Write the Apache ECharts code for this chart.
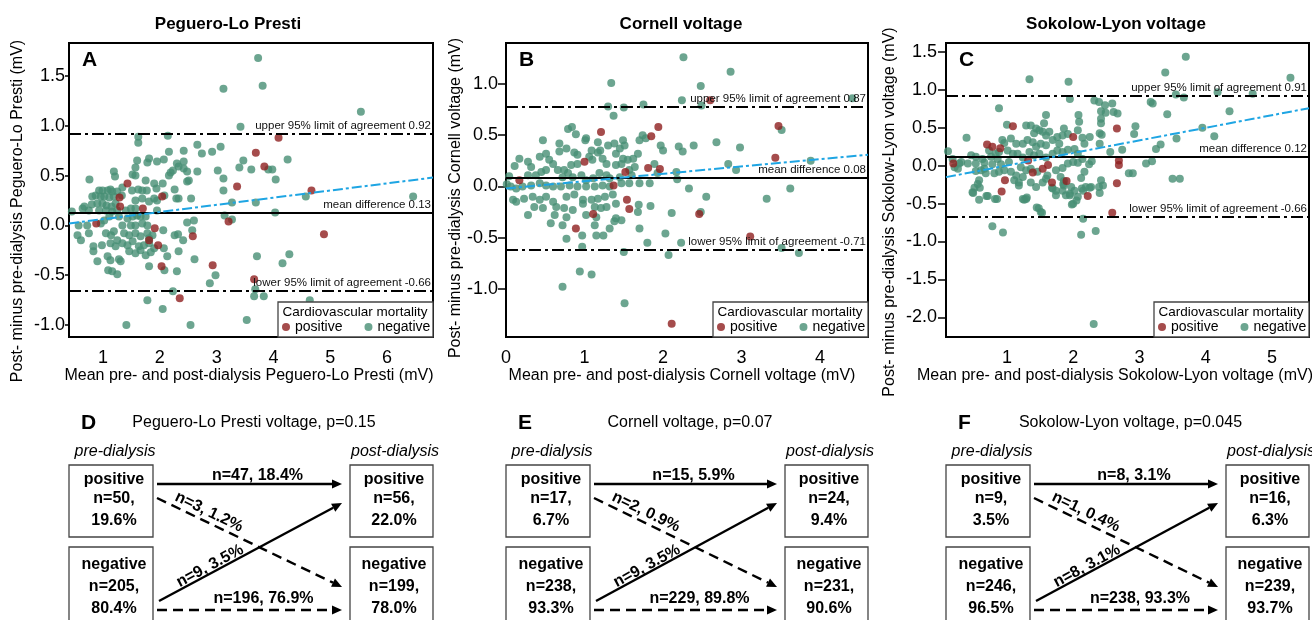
<!DOCTYPE html>
<html>
<head>
<meta charset="utf-8">
<script src="https://cdn.jsdelivr.net/npm/echarts@6/dist/echarts.min.js"></script>
<style>
  html, body { margin: 0; padding: 0; background: #fff; }
  #main { width: 1312px; height: 620px; }
</style>
</head>
<body>
<div id="main"></div>
<script>
// panel A - Peguero-Lo Presti: [mean, difference]
var pegPositive = [[0.88,0.02],[1.29,0.28],[1.30,0.19],[1.43,0.42],[1.70,0.17],[1.81,-0.15],[1.91,-0.03],[1.97,-0.20],
  [2.03,-0.41],[2.04,0.29],[2.35,-0.73],[2.58,-0.11],[2.93,-0.40],[3.21,0.04],[3.36,0.39],[3.66,-0.54],[3.69,0.73],
  [3.84,0.59],[4.09,0.88],[4.67,0.35],[4.89,-0.09]];
var pegNegative = [[3.73,1.68],[3.12,1.37],[3.81,1.40],[5.54,1.14],[3.42,0.99],[2.14,0.90],[1.62,0.89],[1.62,0.83],
  [3.91,0.56],[3.98,0.56],[4.04,0.46],[4.25,0.66],[3.61,0.56],[3.40,0.58],[3.47,0.65],[3.12,0.47],[3.12,0.35],[4.57,0.29],
  [6.46,0.29],[3.69,0.23],[3.27,0.23],[4.03,0.13],[3.14,0.10],[3.27,0.06],[3.71,-0.31],[4.28,-0.29],[4.16,-0.38],
  [2.98,-0.50],[2.88,-0.58],[3.68,-0.64],[3.83,-0.71],[3.66,-0.71],[4.64,-0.75],[3.53,-0.95],[2.54,-1.0],[1.41,-1.0],
  [2.05,-0.84],[1.78,-0.75],[2.23,-0.66],[2.08,-0.45],[2.30,-0.46],[1.81,-0.41],[2.61,-0.34],[2.57,-0.05],[2.60,0.05],
  [2.48,0.03],[2.41,-0.15],[2.32,-0.09],[2.26,-0.10],[2.33,-0.26],[2.13,-0.31],[2.07,-0.23],[2.06,-0.05],[2.08,0.30],
  [1.95,0.25],[1.95,0.15],[1.94,0.37],[2.05,0.42],[2.16,0.50],[2.19,0.53],[2.23,0.55],[2.33,0.59],[2.30,0.62],[2.42,0.64],
  [2.42,0.57],[2.48,0.54],[2.42,0.75],[2.16,0.74],[2.07,0.66],[1.95,0.64],[1.81,0.67],[1.78,0.63],[1.60,0.65],[1.57,0.58],
  [1.52,0.51],[1.57,0.50],[1.75,0.45],[1.62,0.36],[1.77,0.35],[1.90,0.42],[2.26,0.36],[2.29,0.27],[2.33,0.27],[2.55,0.27],
  [2.48,0.44],[2.51,0.45],[2.66,0.54],[2.74,0.72],[2.92,0.74],[3.07,0.79],[2.66,0.81],[3.02,0.55],
  [0.76,0.46],[0.67,0.19],[0.64,0.17],[0.45,0.14],[0.57,0.0],[0.55,-0.10],[0.61,-0.15],[0.75,-0.08],[0.72,0.0],
  [0.83,-0.21],[0.83,-0.26],[0.90,-0.36],[0.98,-0.20],[1.08,-0.31],[1.13,-0.35],[1.09,-0.45],[1.16,-0.46],[1.25,-0.49],
  [1.28,-0.34],[1.31,-0.36],[1.05,-0.08],[1.14,-0.10],[1.19,-0.06],[0.96,0.02],[1.02,0.05],[1.11,0.09],[1.19,0.54],
  [1.21,0.49],[1.34,0.38],[1.33,0.30],[1.25,0.34],[0.93,0.35],[0.99,0.35],[1.08,0.35],[1.13,0.36],[1.16,0.34],[0.81,0.29],
  [0.87,0.30],[0.96,0.29],[1.02,0.29],[1.11,0.28],[1.19,0.29],[0.80,0.21],[0.90,0.22],[0.99,0.22],[1.06,0.20],[1.15,0.19],
  [1.22,0.22],[0.75,0.15],[0.93,0.15],[1.05,0.15],[1.16,0.14],[1.25,0.15],[1.40,0.15],[1.49,0.17],[1.57,0.17],[1.28,0.09],
  [1.43,0.07],[1.52,0.09],[1.60,0.10],[1.66,0.09],[1.75,0.09],[1.34,0.00],[1.49,0.00],[1.57,0.00],[1.69,0.02],[1.78,0.00],
  [1.37,-0.08],[1.46,-0.10],[1.57,-0.08],[1.66,-0.11],[1.78,-0.08],[1.81,-0.13],[1.87,-0.10],[1.34,-0.18],[1.43,-0.20],
  [1.52,-0.16],[1.63,-0.21],[1.72,-0.20],[1.81,-0.18],[1.90,-0.23],[1.46,-0.26],[1.57,-0.28],[1.66,-0.25],[1.75,-0.30],
  [1.84,-0.27],[1.13,-0.18],[1.22,-0.21],[1.25,-0.15],[1.57,0.25],[1.69,0.27],[1.81,0.24],[1.90,0.27],[1.51,0.35],[1.69,0.35]];
var pegTrend = [[0.40,0.02],[6.81,0.48]];
var pegRefValues = [0.92, 0.13, -0.66];
var pegRefLabels = ['upper 95% limit of agreement 0.92', 'mean difference 0.13', 'lower 95% limit of agreement -0.66'];

// panel B - Cornell voltage
var corPositive = [[0.17,0.06],[0.89,-0.41],[1.0,0.24],[1.11,-0.27],[1.21,0.53],[1.37,0.01],[1.52,0.14],[1.54,-0.13],
  [1.57,-0.22],[1.81,0.18],[1.85,0.49],[1.94,0.58],[1.96,0.17],[2.11,-1.34],[2.46,-0.27],[2.60,0.84],[3.11,-0.49],
  [3.43,0.28],[3.47,0.59]];
var corNegative = [[2.26,1.26],[2.86,1.12],[2.48,0.98],[1.34,1.01],[2.24,0.84],[2.49,0.79],[4.41,0.86],[1.30,0.78],
  [1.50,0.77],[1.37,0.69],[1.75,0.80],[3.51,0.55],[3.88,0.25],[2.83,0.22],[2.93,0.16],[2.39,0.40],[2.68,0.43],[2.98,0.38],
  [2.20,0.39],[2.25,0.34],[1.97,0.40],[2.00,0.35],[1.51,-1.14],[0.72,-0.98],[0.94,-0.83],[1.09,-0.86],[1.50,-0.64],
  [2.07,-0.67],[2.23,-0.55],[3.51,-0.60],[3.73,-0.65],[1.80,-0.55],[2.03,-0.46],[1.70,-0.41],[0.97,-0.48],[0.97,-0.59],
  [0.77,-0.51],[1.15,-0.48],[1.24,-0.48],[2.11,-0.26],[2.48,-0.25],[2.55,-0.10],[2.33,-0.02],[2.18,0.07],[2.17,0.14],
  [3.32,-0.12],[3.62,-0.02],[1.84,-0.19],[1.68,-0.25],[1.69,-0.18],[1.70,0.03],[1.83,0.03],[1.93,0.13],[1.89,0.22],
  [1.74,0.50],[1.70,0.45],[1.78,0.47],[1.49,0.45],[1.51,0.40],[1.68,0.32],[1.62,0.27],[1.55,0.26],
  [0.79,0.56],[0.84,0.58],[0.89,0.51],[0.47,0.45],[0.68,0.42],[0.68,0.34],[0.87,0.33],[0.91,0.31],[1.02,0.47],[1.01,0.45],
  [1.17,0.43],[1.30,0.40],[1.20,0.35],[1.17,0.33],[1.09,0.35],[1.38,0.42],[1.45,0.37],[1.40,0.32],[0.77,0.37],[0.51,0.32],
  [0.43,0.29],[0.28,0.24],[0.17,0.27],[0.32,0.19],[0.11,0.20],[0.55,0.26],[0.60,0.22],[0.66,0.16],[0.74,0.16],[0.83,0.21],
  [0.91,0.22],[1.06,0.29],[1.10,0.26],[1.23,0.27],[1.28,0.22],[1.40,0.21],[1.47,0.22],[1.49,0.27],[0.45,0.14],[0.51,0.16],
  [0.38,0.11],[0.28,0.11],[0.79,0.13],[0.72,0.09],[0.85,0.09],[0.96,0.11],[1.02,0.06],[1.11,0.08],[1.19,0.13],[1.28,0.11],
  [1.32,0.08],[1.45,0.09],[1.57,0.16],[1.60,0.11],[1.64,0.19],
  [0.06,0.0],[0.13,-0.02],[0.21,0.0],[0.32,0.01],[0.43,0.03],[0.51,0.01],[0.60,0.0],[0.70,0.0],[0.81,0.01],[0.91,0.0],
  [1.02,0.0],[1.13,0.0],[1.23,0.01],[1.32,0.0],[1.47,0.03],[1.57,0.03],
  [0.09,-0.13],[0.13,-0.15],[0.23,-0.12],[0.34,-0.10],[0.43,-0.13],[0.51,-0.10],[0.60,-0.15],[0.77,-0.10],[0.87,-0.08],
  [0.98,-0.13],[1.09,-0.13],[1.17,-0.12],[1.26,-0.10],[1.36,-0.08],
  [0.36,-0.20],[0.47,-0.21],[0.64,-0.20],[0.74,-0.21],[0.85,-0.23],[0.98,-0.17],[1.13,-0.20],[1.21,-0.21],[1.28,-0.20],
  [1.40,-0.17],[0.28,-0.28],[0.62,-0.28],[0.77,-0.30],[1.02,-0.28],[1.15,-0.30],[1.40,-0.31],[1.47,-0.33],
  [0.57,-0.36],[0.72,-0.38],[1.13,-0.38],[1.38,-0.34],[1.32,-0.41],[0.04,0.10],[0.01,0.02]];
var corTrend = [[0.0,-0.02],[4.61,0.31]];
var corRefValues = [0.78, 0.08, -0.62];
var corRefLabels = ['upper 95% limit of agreement 0.87', 'mean difference 0.08', 'lower 95% limit of agreement -0.71'];

// panel C - Sokolow-Lyon voltage
var sokPositive = [[0.19,0.03],[0.70,0.28],[0.78,0.25],[0.90,0.23],[0.97,-0.19],[0.92,-0.34],[1.09,0.52],[1.32,0.07],
  [1.39,-0.09],[1.54,-0.04],[1.62,0.01],[1.68,-0.22],[1.90,-0.20],[2.00,0.38],[2.22,-0.40],[2.66,-0.23],[2.66,0.49],
  [2.69,0.07],[2.69,0.01],[2.59,-0.62]];
var sokNegative = [[3.70,1.44],[3.39,1.23],[5.28,1.16],[1.34,1.14],[1.93,1.11],[1.95,0.88],[3.55,0.94],[3.67,0.90],
  [4.18,0.97],[4.71,0.95],[3.17,0.84],[3.20,0.82],[3.42,0.68],[4.36,0.72],[3.95,0.50],[4.13,0.39],[3.56,0.36],[3.32,0.28],
  [3.25,0.22],[3.19,0.06],[3.10,0.03],[3.50,-0.17],[3.61,-0.17],[2.94,0.52],[2.92,0.42],[2.74,0.21],[2.56,0.18],[2.84,-0.10],
  [2.90,-0.10],[2.32,0.86],[2.39,0.84],[2.48,0.80],[2.59,0.82],[2.61,0.71],[2.67,0.69],[2.42,0.72],[2.49,0.70],[2.42,0.62],
  [2.42,0.56],[2.40,0.43],[2.43,0.41],[2.40,0.29],[2.25,0.38],[2.14,0.37],[2.08,0.67],[2.09,0.58],[2.07,0.47],[2.28,0.06],
  [2.24,0.02],[2.17,-0.08],[2.12,-0.16],[2.13,-0.30],[2.19,-0.28],[2.27,-0.28],[2.39,-0.28],[2.42,-0.19],[2.15,-0.70],
  [2.12,-0.91],[2.34,-0.86],[2.31,-2.09],[1.98,-0.51],[1.95,-0.39],[1.97,-0.28],[1.81,-0.15],[1.86,-0.26],[1.86,-0.20],
  [1.69,-0.30],[1.74,-0.33],[1.51,-0.61],[1.48,-0.56],[1.29,-0.44],[1.26,-0.45],[1.18,-0.26],[1.18,-0.22],[1.11,-0.19],
  [1.14,-0.13],[0.78,-0.80],[0.94,-0.88],[0.69,-0.40],[0.58,-0.45],[0.82,-0.44],[0.48,-0.35],[0.51,-0.29],[0.56,-0.24],
  [0.58,-0.19],[0.53,-0.07],[0.61,-0.06],[0.66,-0.04],[0.21,-0.02],[0.26,-0.04],[0.28,0.03],[0.18,0.09],[0.31,0.05],
  [0.11,0.19],[0.39,0.37],[0.88,0.76],[1.0,0.54],[0.93,0.34],[0.96,0.30],[1.06,0.36],[0.73,0.20],[0.83,0.16],[0.88,0.18],
  [1.01,0.20],[1.09,0.16],[0.46,0.14],[0.53,0.12],[0.63,0.09],[0.76,0.12],[0.86,0.09],[0.41,0.03],[0.53,0.03],[0.66,0.04],
  [0.78,0.02],[0.91,0.02],[1.03,0.05],[0.68,-0.10],[0.81,-0.10],[0.88,-0.08],[0.96,-0.06],[1.06,-0.08],
  [1.29,0.53],[1.36,0.53],[1.41,0.43],[1.44,0.49],[1.49,0.47],[1.56,0.56],[1.59,0.67],[1.54,0.45],[1.59,0.40],[1.64,0.45],
  [1.14,0.29],[1.24,0.29],[1.31,0.34],[1.39,0.31],[1.44,0.25],[1.51,0.29],[1.59,0.27],[1.69,0.34],[1.76,0.38],[1.79,0.29],
  [1.84,0.40],[1.86,0.49],[1.92,0.42],[1.16,0.16],[1.24,0.11],[1.34,0.18],[1.41,0.14],[1.49,0.16],[1.59,0.11],[1.69,0.16],
  [1.76,0.20],[1.84,0.18],[1.92,0.21],[2.02,0.22],[2.07,0.16],[2.17,0.29],[1.21,-0.02],[1.29,-0.06],[1.36,-0.04],
  [1.46,-0.08],[1.61,-0.13],[1.74,-0.06],[1.84,-0.03],[1.92,0.03],[2.0,0.05],[2.07,0.04],[2.14,0.09],[1.24,-0.15],
  [1.36,-0.22],[1.44,-0.28],[1.54,-0.22],[1.59,-0.17],[1.74,-0.39],[1.84,-0.33],[1.89,-0.39],[2.02,-0.33],[2.07,-0.41],
  [0.49,-0.36],[0.59,-0.29],[0.71,-0.40],[0.85,-0.44],[1.24,-0.44],[1.30,-0.42],[1.45,-0.55],[1.53,-0.62],[1.95,-0.37],
  [2.00,-0.50],[2.05,-0.46],[2.15,-0.33],[2.25,-0.29],[2.40,-0.36],[2.45,-0.26],[1.68,-0.29],[1.85,-0.24]];
var sokTrend = [[0.08,-0.15],[5.56,0.76]];
var sokRefValues = [0.92, 0.12, -0.67];
var sokRefLabels = ['upper 95% limit of agreement 0.91', 'mean difference 0.12', 'lower 95% limit of agreement -0.66'];

// axes
var panelTitles = ['Peguero-Lo Presti', 'Cornell voltage', 'Sokolow-Lyon voltage'];
var panelLetters = ['A', 'B', 'C'];
var xNames = ['Mean pre- and post-dialysis Peguero-Lo Presti (mV)', 'Mean pre- and post-dialysis Cornell voltage (mV)',
  'Mean pre- and post-dialysis Sokolow-Lyon voltage (mV)'];
var yNames = ['Post- minus pre-dialysis Peguero-Lo Presti (mV)', 'Post- minus pre-dialysis Cornell voltage (mV)',
  'Post- minus pre-dialysis Sokolow-Lyon voltage (mV)'];
var xRanges = [[0.40, 6.81], [0, 4.61], [0.08, 5.56]];
var yRanges = [[-1.12, 1.83], [-1.47, 1.40], [-2.26, 1.62]];
var xTicks = [[1, 2, 3, 4, 5, 6], [0, 1, 2, 3, 4], [1, 2, 3, 4, 5]];
var yTicks = [[-1, -0.5, 0, 0.5, 1, 1.5], [-1, -0.5, 0, 0.5, 1], [-2, -1.5, -1, -0.5, 0, 0.5, 1, 1.5]];

// flow diagrams D-F
var flowLetters = ['D', 'E', 'F'];
var flowTitles = ['Peguero-Lo Presti voltage, p=0.15', 'Cornell voltage, p=0.07', 'Sokolow-Lyon voltage, p=0.045'];
var prePositive = [['n=50,', '19.6%'], ['n=17,', '6.7%'], ['n=9,', '3.5%']];
var preNegative = [['n=205,', '80.4%'], ['n=238,', '93.3%'], ['n=246,', '96.5%']];
var postPositive = [['n=56,', '22.0%'], ['n=24,', '9.4%'], ['n=16,', '6.3%']];
var postNegative = [['n=199,', '78.0%'], ['n=231,', '90.6%'], ['n=239,', '93.7%']];
var stayPositive = ['n=47, 18.4%', 'n=15, 5.9%', 'n=8, 3.1%'];
var posToNeg = ['n=3, 1.2%', 'n=2, 0.9%', 'n=1, 0.4%'];
var negToPos = ['n=9, 3.5%', 'n=9, 3.5%', 'n=8, 3.1%'];
var stayNegative = ['n=196, 76.9%', 'n=229, 89.8%', 'n=238, 93.3%'];

var FONT = "'Liberation Sans', Arial, Helvetica, sans-serif";
var GREEN = '#478f74';
var RED = '#8e1f1f';
var BLUE = '#1ea5e3';

var grids = [
    { left: 69, top: 43, width: 364, height: 294 },
    { left: 506, top: 43, width: 362, height: 294 },
    { left: 946, top: 43, width: 363, height: 294 }
];
var positives = [pegPositive, corPositive, sokPositive];
var negatives = [pegNegative, corNegative, sokNegative];
var trends = [pegTrend, corTrend, sokTrend];
var refValues = [pegRefValues, corRefValues, sokRefValues];
var refLabels = [pegRefLabels, corRefLabels, sokRefLabels];
var labelMargins = [4, 8, 9];
var tickLengths = [4, 8, 8];
var titleX = [228, 681, 1116];

var graphics = [];

function addText(x, y, text, font, align, rot) {
    graphics.push({
        type: 'text', x: x, y: y, rotation: rot || 0, z: 10,
        style: { text: text, font: font + ' ' + FONT, fill: '#000',
            textAlign: align || 'center', textVerticalAlign: 'middle' }
    });
}

function addBox(x, y, w, h) {
    graphics.push({ type: 'rect', z: 3, shape: { x: x, y: y, width: w, height: h },
        style: { fill: '#fff', stroke: '#444', lineWidth: 1.3 } });
}

function addArrow(x1, y1, x2, y2, dashed) {
    var a = Math.atan2(y2 - y1, x2 - x1);
    var L = 10, W = 4.5;
    var bx = x2 - L * Math.cos(a), by = y2 - L * Math.sin(a);
    graphics.push({ type: 'line', z: 4, shape: { x1: x1, y1: y1, x2: bx, y2: by },
        style: { stroke: '#000', lineWidth: 2.4, lineDash: dashed ? [10, 6] : null } });
    graphics.push({ type: 'polygon', z: 4,
        shape: { points: [[x2, y2], [bx - W * Math.sin(a), by + W * Math.cos(a)], [bx + W * Math.sin(a), by - W * Math.cos(a)]] },
        style: { fill: '#000' } });
}

var series = [];
var xAxes = [];
var yAxes = [];
var legends = [];

for (var i = 0; i < 3; i++) {
    var g = grids[i];
    var right = g.left + g.width;
    xAxes.push({
        type: 'value', gridIndex: i, min: xRanges[i][0], max: xRanges[i][1],
        axisLine: { show: false }, axisTick: { show: false }, splitLine: { show: false },
        axisLabel: { customValues: xTicks[i], margin: 12, color: '#000', fontSize: 18, fontFamily: FONT }
    });
    yAxes.push({
        type: 'value', gridIndex: i, min: yRanges[i][0], max: yRanges[i][1],
        axisLine: { show: false }, splitLine: { show: false },
        axisTick: { show: true, customValues: yTicks[i], length: tickLengths[i], lineStyle: { color: '#000', width: 1.5 } },
        axisLabel: { customValues: yTicks[i], margin: labelMargins[i], color: '#000', fontSize: 18, fontFamily: FONT,
            formatter: function (v) { return v.toFixed(1); } }
    });

    var refData = refValues[i].map(function (v, k) {
        return {
            yAxis: v,
            lineStyle: { color: '#000', width: 2, type: k === 1 ? 'solid' : [12, 4, 3, 4] },
            label: { show: true, position: 'insideEndTop', distance: 2, formatter: refLabels[i][k],
                color: '#111', fontSize: 11.5, fontFamily: FONT }
        };
    });

    series.push({
        type: 'scatter', name: 'negative', xAxisIndex: i, yAxisIndex: i, data: negatives[i],
        symbolSize: 8, itemStyle: { color: GREEN }, silent: true,
        markLine: { silent: true, symbol: 'none', animation: false, data: refData }
    });
    series.push({
        type: 'scatter', name: 'positive', xAxisIndex: i, yAxisIndex: i, data: positives[i],
        symbolSize: 8, itemStyle: { color: RED }, silent: true
    });
    series.push({
        type: 'line', name: 'trend', xAxisIndex: i, yAxisIndex: i, data: trends[i], z: 5,
        showSymbol: false, silent: true, lineStyle: { color: BLUE, width: 2, type: [10, 3, 3, 3] }
    });

    legends.push({
        left: right - 151, top: 320, padding: 0, itemGap: 22, itemWidth: 8, itemHeight: 8,
        icon: 'circle', selectedMode: false, data: ['positive', 'negative'],
        textStyle: { color: '#000', fontSize: 14, fontFamily: FONT }
    });

    // legend frame and heading
    addBox(right - 155, 302, 155, 35);
    addText(right - 78, 312, 'Cardiovascular mortality', '13.5px');

    // titles, letters, axis names
    addText(titleX[i], 24, panelTitles[i], 'bold 17px');
    addText(g.left + 13, 60, panelLetters[i], 'bold 21px', 'left');
    addText([249, 682, 1115][i], 376, xNames[i], '16px');
    addText([18, 456, 890][i], [211, 198, 212][i], yNames[i], '16px', 'center', Math.PI / 2);

    // flow diagram below the plot
    var ox = g.left;
    var px = right - 83;
    var mid = (ox + right) / 2;
    addText(ox + 12, 423, flowLetters[i], 'bold 21px', 'left');
    addText(mid + 3, 423, flowTitles[i], '16px');
    addText(ox + 46, 452, 'pre-dialysis', 'italic 16px');
    addText(right - 38, 452, 'post-dialysis', 'italic 16px');
    addBox(ox, 465, 84, 72);
    addBox(ox, 547, 84, 90);
    addBox(px, 465, 83, 72);
    addBox(px, 547, 83, 90);
    addText(ox + 45, 480, 'positive', 'bold 16px');
    addText(ox + 45, 499, prePositive[i][0], 'bold 16px');
    addText(ox + 45, 521, prePositive[i][1], 'bold 16px');
    addText(ox + 45, 565, 'negative', 'bold 16px');
    addText(ox + 45, 587, preNegative[i][0], 'bold 16px');
    addText(ox + 45, 609, preNegative[i][1], 'bold 16px');
    addText(px + 44, 480, 'positive', 'bold 16px');
    addText(px + 44, 499, postPositive[i][0], 'bold 16px');
    addText(px + 44, 521, postPositive[i][1], 'bold 16px');
    addText(px + 44, 565, 'negative', 'bold 16px');
    addText(px + 44, 587, postNegative[i][0], 'bold 16px');
    addText(px + 44, 609, postNegative[i][1], 'bold 16px');

    var sx = ox + 88, tx = right - 91, am = (sx + tx) / 2;
    addArrow(sx, 484, tx, 484, false);
    addArrow(sx, 498, tx, 587, true);
    addArrow(sx + 2, 601, tx, 503, false);
    addArrow(sx, 610, tx, 610, true);
    addText(am + 8, 476, stayPositive[i], 'bold 16px');
    addText(ox + 140, 512, posToNeg[i], 'bold 16px', 'center', -Math.atan2(89, tx - sx));
    addText(ox + 141, 566, negToPos[i], 'bold 16px', 'center', Math.atan2(98, tx - sx - 2));
    addText(am + 14, 599, stayNegative[i], 'bold 16px');
}

var chart = echarts.init(document.getElementById('main'), null, { renderer: 'canvas' });

var option = {
    backgroundColor: '#fff',
    animation: false,
    grid: grids.map(function (g) {
        return { left: g.left, top: g.top, width: g.width, height: g.height, show: true,
            borderColor: '#000', borderWidth: 2, backgroundColor: 'transparent' };
    }),
    xAxis: xAxes,
    yAxis: yAxes,
    legend: legends,
    series: series,
    graphic: { elements: graphics }
};

chart.setOption(option);
</script>
</body>
</html>
